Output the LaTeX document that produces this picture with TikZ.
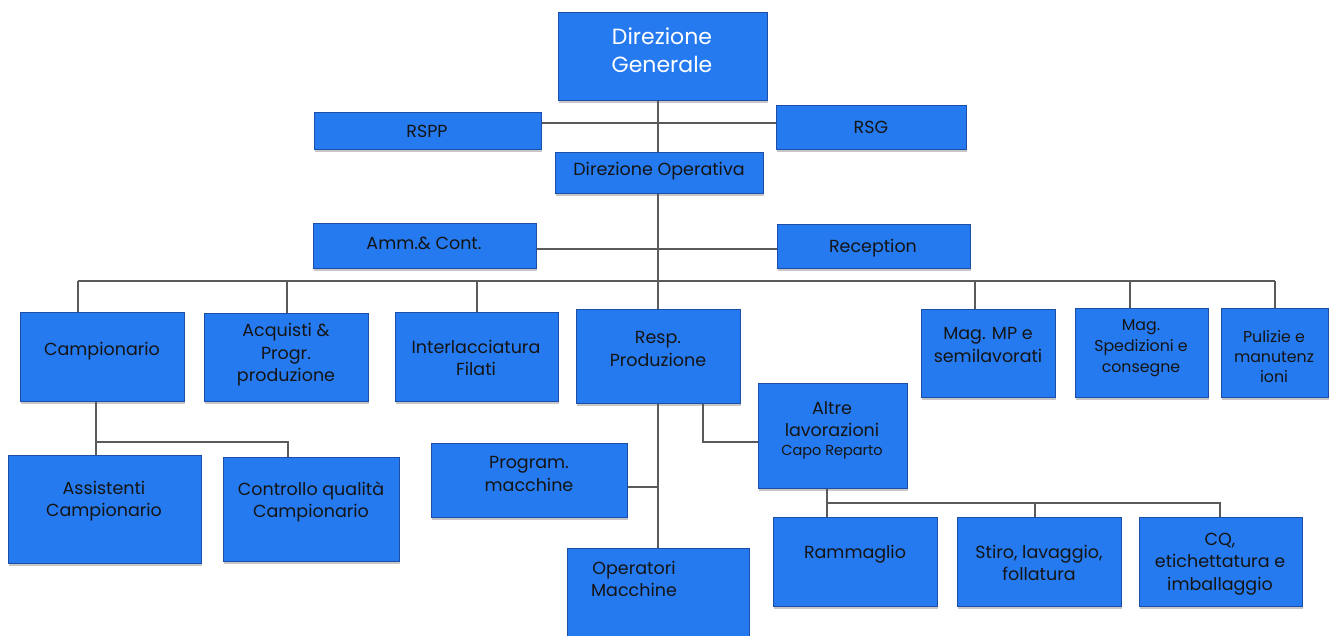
\documentclass[tikz,border=0pt]{standalone}
\usepackage{fontspec}
\setmainfont{Poppins}
\usetikzlibrary{shadows}
\definecolor{boxblue}{RGB}{38,122,240}
\definecolor{boxedge}{RGB}{28,78,168}
\definecolor{linegray}{RGB}{90,90,90}
\tikzset{
  bx/.style={draw=boxedge, line width=1pt, fill=boxblue, inner sep=0pt,
    drop shadow={shadow xshift=1pt, shadow yshift=-2.5pt, opacity=0.22, fill=black}},
  lbl/.style={align=center, font=\fontsize{17.5}{22.5}\selectfont, text=black!92, inner sep=0pt},
  conn/.style={draw=linegray, line width=1.1pt},
}
\newcommand\mkbox[5]{%
  \node[bx, minimum width={(#4-#2)*1pt}, minimum height={(#5-#3)*1pt}] (#1) at ({(#2+#4)/2},{(#3+#5)/2}) {};}
\begin{document}
\begin{tikzpicture}[x=1pt,y=-1pt]
\useasboundingbox (0,0) rectangle (1336,635);
\clip (0,0) rectangle (1336,635);
% boxes
\mkbox{DG}{558}{12}{767}{100}
\mkbox{RSPP}{314}{112}{541}{149}
\mkbox{RSG}{776}{105}{966}{149}
\mkbox{DO}{555}{152}{763}{193}
\mkbox{Amm}{313}{223}{536}{268}
\mkbox{Rec}{777}{224}{970}{268}
\mkbox{Camp}{20}{312}{184}{401}
\mkbox{Acq}{204}{313}{368}{401}
\mkbox{Inter}{395}{312}{558}{401}
\mkbox{Resp}{576}{309}{740}{403}
\mkbox{MagMP}{921}{309}{1055}{397}
\mkbox{MagSp}{1075}{308}{1208}{397}
\mkbox{Pul}{1221}{308}{1328}{397}
\mkbox{Altre}{758}{383}{907}{488}
\mkbox{Prog}{431}{443}{627}{517}
\mkbox{Oper}{567}{548}{749}{660}
\mkbox{Assist}{8}{455}{201}{563}
\mkbox{Contr}{223}{457}{399}{561}
\mkbox{Ramm}{773}{517}{937}{606}
\mkbox{Stiro}{957}{517}{1121}{606}
\mkbox{CQ}{1139}{517}{1302}{606}
% labels
\node[lbl, text=white, font=\fontsize{22}{28}\selectfont] (DG-t) at (662,50) {Direzione\\Generale};
\node[lbl] (RSPP-t) at (427,131) {RSPP};
\node[lbl] (RSG-t) at (871,127) {RSG};
\node[lbl] (DO-t) at (659,171) {Direzione Operativa};
\node[lbl] (Amm-t) at (424,243) {Amm.\& Cont.};
\node[lbl] (Rec-t) at (873,248) {Reception};
\node[lbl] (Camp-t) at (102,351) {Campionario};
\node[lbl] (Acq-t) at (286,355) {Acquisti \&\\Progr.\\produzione};
\node[lbl] (Inter-t) at (476,358) {Interlacciatura\\Filati};
\node[lbl] (Resp-t) at (658,349) {Resp.\\Produzione};
\node[lbl] (MagMP-t) at (988,345) {Mag. MP e\\semilavorati};
\node[lbl, font=\fontsize{15.8}{21}\selectfont] (MagSp-t) at (1141,348) {Mag.\\Spedizioni e\\consegne};
\node[lbl, font=\fontsize{15.8}{20}\selectfont] (Pul-t) at (1274,357) {Pulizie e\\manutenz\\ioni};
\node[lbl] (Altre-t) at (832,430) {Altre\\lavorazioni\\[-4pt]{\fontsize{14.5}{16}\selectfont Capo Reparto}};
\node[lbl] (Prog-t) at (529,474) {Program.\\macchine};
\node[lbl] (Oper-t) at (634,579) {Operatori\\Macchine};
\node[lbl] (Assist-t) at (104,501) {Assistenti\\Campionario};
\node[lbl] (Contr-t) at (311,502) {Controllo qualità\\Campionario};
\node[lbl] (Ramm-t) at (855,554) {Rammaglio};
\node[lbl] (Stiro-t) at (1039,563) {Stiro, lavaggio,\\follatura};
\node[lbl] (CQ-t) at (1220,564) {CQ,\\etichettatura e\\imballaggio};
% junction coordinates
\coordinate (j1) at (658,123);
\coordinate (j2) at (658,249);
\coordinate (b1) at (78,281);
\coordinate (b2) at (287,281);
\coordinate (b3) at (477,281);
\coordinate (b4) at (975,281);
\coordinate (b5) at (1130,281);
\coordinate (b6) at (1275,281);
\coordinate (c1) at (96,442);
\coordinate (c2) at (288,442);
\coordinate (p1) at (658,487);
\coordinate (a1) at (703,442);
\coordinate (r1) at (827,503);
\coordinate (r2) at (1035,503);
\coordinate (r3) at (1220,503);
% connectors
\draw[conn] (j1 |- DG.south) -- (j1 |- DO.north);
\draw[conn] (j1 -| RSPP.east) -- (j1 -| RSG.west);
\draw[conn] (j1 |- DO.south) -- (j1 |- Resp.north);
\draw[conn] (j2 -| Amm.east) -- (j2 -| Rec.west);
\draw[conn] (b1) -- (b6);
\draw[conn] (b1) -- (b1 |- Camp.north);
\draw[conn] (b2) -- (b2 |- Acq.north);
\draw[conn] (b3) -- (b3 |- Inter.north);
\draw[conn] (b4) -- (b4 |- MagMP.north);
\draw[conn] (b5) -- (b5 |- MagSp.north);
\draw[conn] (b6) -- (b6 |- Pul.north);
\draw[conn] (c1 |- Camp.south) -- (c1 |- Assist.north);
\draw[conn] (c1) -- (c2) -- (c2 |- Contr.north);
\draw[conn] (p1 |- Resp.south) -- (p1 |- Oper.north);
\draw[conn] (p1) -- (p1 -| Prog.east);
\draw[conn] (a1 |- Resp.south) -- (a1) -- (a1 -| Altre.west);
\draw[conn] (r1 |- Altre.south) -- (r1 |- Ramm.north);
\draw[conn] (r1) -- (r3) -- (r3 |- CQ.north);
\draw[conn] (r2) -- (r2 |- Stiro.north);
\end{tikzpicture}
\end{document}
